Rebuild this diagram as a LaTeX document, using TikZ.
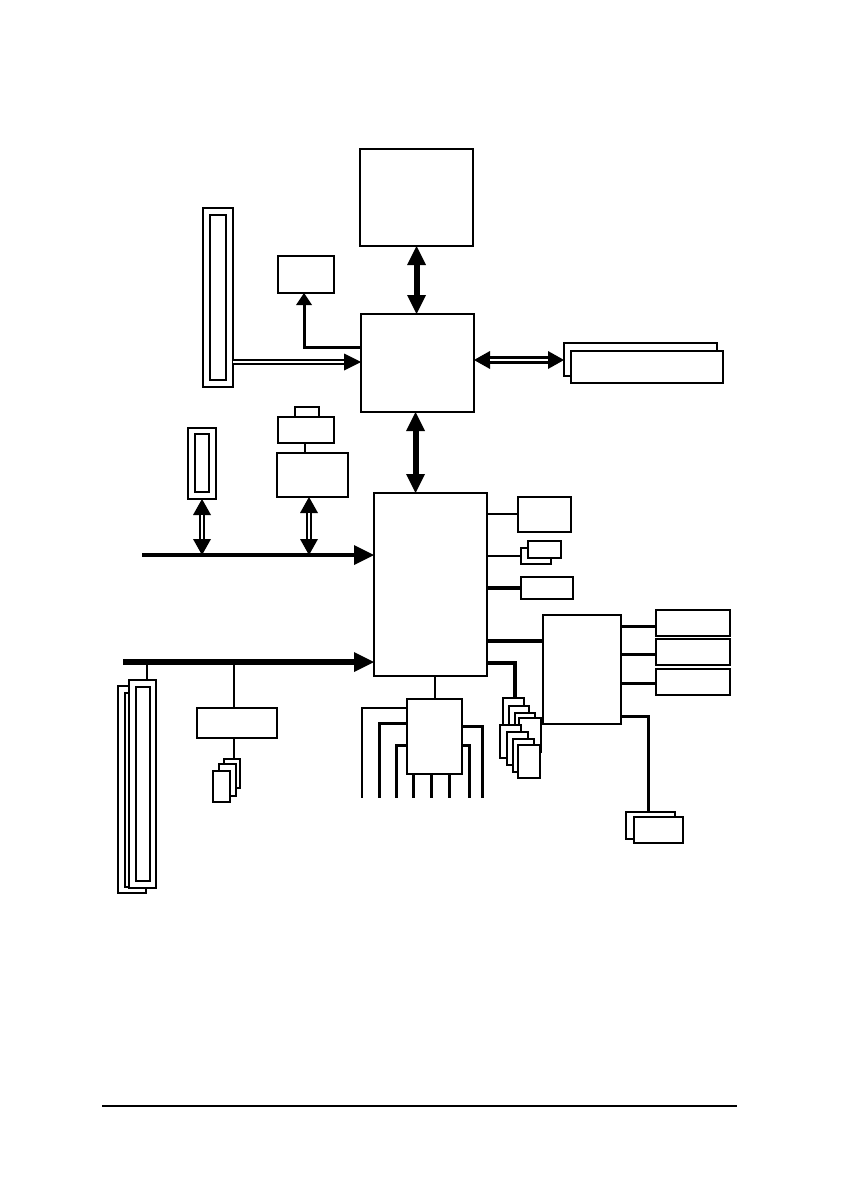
\documentclass[tikz,border=0pt]{standalone}
\usetikzlibrary{arrows.meta}
\newcommand\bx[6][]{\node[box,#1,minimum width={(#5-#3)*1pt},minimum height={(#6-#4)*1pt}] (#2) at ({(#3+#5)/2},{(#4+#6)/2}) {};}
\begin{document}
\begin{tikzpicture}[x=1pt,y=-1pt,
  box/.style={draw, fill=white, line width=1.8pt, inner sep=0pt, outer sep=0pt},
  chip/.style={box, line width=2.8pt},
  wire/.style={line width=2.6pt},
  bidir/.style={line width=6pt, {Triangle[length=19pt,width=19pt,line width=0pt]}-{Triangle[length=19pt,width=19pt,line width=0pt]}},
  dblone/.style={line width=6.5pt, -{Triangle[length=17pt,width=17pt,line width=0pt]},
     postaction={draw=white, line width=2.2pt, arrows=-, shorten >=17pt}},
  dbltwo/.style={line width=6.5pt, {Triangle[length=16pt,width=18pt,line width=0pt]}-{Triangle[length=16pt,width=18pt,line width=0pt]},
     postaction={draw=white, line width=2.2pt, arrows=-, shorten >=16pt, shorten <=16pt}},
  busarrow/.style={line width=#1, -{Triangle[length=20pt,width=20pt,line width=0pt]}},
]
\useasboundingbox (0,0) rectangle (840,1190);
% main chips
\bx[chip]{cpu}{360}{149}{473}{246}
\bx[chip]{nb}{361}{314}{474}{412}
\bx[chip]{sb}{374}{493}{487}{676}
\bx[line width=2.5pt]{gfx}{278}{256}{334}{293}
% AGP slot
\bx{agp}{203}{208}{233}{387}
\bx{agpin}{210}{215}{226}{380}
% memory
\bx{memA}{564}{343}{717}{376}
\bx{memB}{571}{351}{723}{383}
% PCI slot
\bx{pci}{188}{428}{216}{499}
\bx{pciin}{195}{434}{209}{492}
% LAN
\bx{hdr}{295}{407}{319}{417}
\bx{phy}{278}{417}{334}{443}
\bx{lan}{277}{453}{348}{497}
% SB right side
\bx{sbr1}{518}{497}{571}{532}
\bx{usbB}{521}{548}{551}{564}
\bx{usbA}{528}{541}{561}{558}
\bx{sbr3}{521}{577}{573}{599}
\bx{sio}{543}{615}{621}{724}
\bx{io1}{656}{610}{730}{636}
\bx{io2}{656}{639}{730}{665}
\bx{io3}{656}{669}{730}{695}
\bx{fdB}{626}{812}{675}{839}
\bx{fdA}{634}{817}{683}{843}
% IDE
\bx{ide}{407}{699}{462}{774}
% card stack near SB
\bx{c1}{503}{698}{524}{731}
\bx{c2}{509}{706}{529}{739}
\bx{c3}{515}{713}{535}{746}
\bx{c4}{519}{718}{541}{752}
\bx{c5}{500}{725}{521}{758}
\bx{c6}{507}{732}{528}{765}
\bx{c7}{513}{739}{534}{772}
\bx{c8}{518}{745}{540}{778}
% audio
\bx{ac}{197}{708}{277}{738}
\bx{l1}{224}{759}{240}{788}
\bx{l2}{219}{764}{236}{796}
\bx{l3}{213}{771}{230}{802}
% long slots
\bx{s1}{118}{686}{146}{893}
\bx{s2}{125}{693}{150}{887}
\bx{s3}{129}{680}{156}{888}
\bx{s3in}{136}{687}{150}{881}

% connectors
\draw[bidir] (cpu.south) -- (cpu.south |- nb.north);
\draw[bidir] ([xshift=-2pt]nb.south) -- ([xshift=-2pt]nb.south |- sb.north);
\draw[line width=3pt, -{Triangle[length=12pt,width=16pt,line width=0pt]}] (nb.west |- 0,347) -| ([xshift=-2pt]gfx.south);
\draw[dblone] (agp.east |- 0,362) -- (nb.west |- 0,362);
\draw[dbltwo, line width=8pt] (nb.east |- 0,360) -- (memA.west |- 0,360);
\coordinate (b1) at (142,555);
\coordinate (b2) at (123,662);
\draw[dbltwo] (pci.south) -- (pci.south |- b1);
\draw[dbltwo] (lan.south -| 309,0) -- (b1 -| 309,0);
\draw[wire] (phy.south -| 305,0) -- (lan.north -| 305,0);
\draw[busarrow=4.5pt] (b1) -- (sb.west |- b1);
\draw[busarrow=5.5pt] (b2) -- (sb.west |- b2);
\draw[wire] (b2 -| 147,0) -- (s3.north -| 147,0);
\draw[wire] (b2 -| 234,0) -- (ac.north -| 234,0);
\draw[wire] (ac.south -| 234,0) -- (l1.north -| 234,0);
% SB right
\draw[wire] (sb.east |- 0,514) -- (sbr1.west |- 0,514);
\draw[wire] (sb.east |- 0,556) -- (usbB.west |- 0,556);
\draw[line width=3.3pt] (sb.east |- 0,588) -- (sbr3.west |- 0,588);
\draw[line width=4.8pt] (sb.east |- 0,641) -- (sio.west |- 0,641);
\draw[line width=3.5pt] (sb.east |- 0,663) -| (c1.north -| 515,0);
\draw[line width=3pt] (sio.east |- 0,626) -- (io1.west |- 0,626);
\draw[line width=3pt] (sio.east |- 0,654) -- (io2.west |- 0,654);
\draw[line width=3pt] (sio.east |- 0,683) -- (io3.west |- 0,683);
\draw[line width=3pt] (sio.east |- 0,716) -| (fdB.north -| 648,0);
% IDE
\draw[wire] (sb.south -| 435,0) -- (ide.north -| 435,0);
\coordinate (e1) at (362,798);
\coordinate (e2) at (379,798);
\coordinate (e3) at (396,798);
\coordinate (e4) at (413,798);
\coordinate (e5) at (431,798);
\coordinate (e6) at (449,798);
\coordinate (e7) at (469,798);
\coordinate (e8) at (482,798);
\draw[line width=1.8pt] (ide.west |- 0,708) -| (e1);
\draw[line width=3pt] (ide.west |- 0,723) -| (e2);
\draw[line width=3pt] (ide.west |- 0,745) -| (e3);
\draw[line width=3pt] (ide.south -| e4) -- (e4);
\draw[line width=3pt] (ide.south -| e5) -- (e5);
\draw[line width=3pt] (ide.south -| e6) -- (e6);
\draw[line width=3pt] (ide.east |- 0,745) -| (e7);
\draw[line width=3pt] (ide.east |- 0,726) -| (e8);
% footer rule
\coordinate (f1) at (102,1106);
\coordinate (f2) at (737,1106);
\draw[line width=2.2pt] (f1) -- (f2);
\end{tikzpicture}
\end{document}
